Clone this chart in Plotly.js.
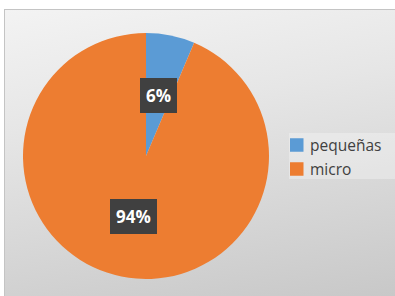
<!DOCTYPE html>
<html>
<head>
<meta charset="utf-8">
<script src="https://cdn.plot.ly/plotly-3.0.1.min.js"></script>
<style>
html,body{margin:0;padding:0;background:#ffffff;width:395px;height:296px;overflow:hidden;}
#bg{position:absolute;left:4px;top:9px;width:390px;height:286px;border-left:1px solid #c4c4c4;border-top:1px solid #c4c4c4;
background:linear-gradient(170deg,#f3f3f3 0%,#e6e6e6 35%,#d6d6d6 70%,#c8c8c8 100%);}
#chart{position:absolute;left:0;top:0;width:395px;height:296px;}
</style>
</head>
<body>
<div id="bg"></div>
<div id="chart"></div>
<script>
const categories = ["pequeñas", "micro"];
const values = [6.4, 93.6];
const colors = ["#5b9bd5", "#ed7d31"];

const W = 395, H = 296;
const cxPx = 146, cyPx = 156, rPx = 123;
const dom = {
  x: [(cxPx - rPx) / W, (cxPx + rPx) / W],
  y: [1 - (cyPx + rPx) / H, 1 - (cyPx - rPx) / H]
};

const total = values.reduce((a, b) => a + b, 0);
const pctLabels = values.map(v => Math.round(v / total * 100) + "%");

let cum = 0;
const annotations = values.map((v, i) => {
  const mid = (cum + v / 2) / total * 2 * Math.PI;
  cum += v;
  const px = cxPx + 0.5 * rPx * Math.sin(mid);
  const py = cyPx - 0.5 * rPx * Math.cos(mid);
  return {
    x: px / W, y: 1 - py / H, xref: "paper", yref: "paper",
    text: "<b>" + pctLabels[i] + "</b>", showarrow: false,
    font: {family: "Open Sans, Liberation Sans, sans-serif", size: 17, color: "#ffffff"},
    bgcolor: "#404040", bordercolor: "#404040", borderwidth: 1, borderpad: 5,
    xanchor: "center", yanchor: "middle"
  };
});

// custom legend built from categories / colors
const legX = 290, legY0 = 145, legStep = 24, sq = 13.5;
const shapes = [{
  type: "rect", xref: "paper", yref: "paper",
  x0: 289 / W, x1: 1, y0: 1 - 179 / H, y1: 1 - 133 / H,
  fillcolor: "rgba(255,255,255,0.3)", line: {width: 0}, layer: "below"
}];
categories.forEach((c, i) => {
  const yc = legY0 + i * legStep;
  shapes.push({
    type: "rect", xref: "paper", yref: "paper",
    x0: legX / W, x1: (legX + sq) / W,
    y0: 1 - (yc + sq / 2) / H, y1: 1 - (yc - sq / 2) / H,
    fillcolor: colors[i], line: {width: 0}
  });
  annotations.push({
    x: 308 / W, y: 1 - yc / H, xref: "paper", yref: "paper",
    text: c, showarrow: false, xanchor: "left", yanchor: "middle",
    font: {family: "Open Sans, Liberation Sans, sans-serif", size: 15.5, color: "#404040"}
  });
});

const data = [{
  type: "pie",
  labels: categories,
  values: values,
  marker: {colors: colors, line: {width: 0}},
  sort: false,
  direction: "clockwise",
  rotation: 0,
  textinfo: "none",
  hoverinfo: "none",
  domain: dom
}];

const layout = {
  width: W, height: H,
  margin: {l: 0, r: 0, t: 0, b: 0},
  paper_bgcolor: "rgba(0,0,0,0)",
  plot_bgcolor: "rgba(0,0,0,0)",
  showlegend: false,
  shapes: shapes,
  annotations: annotations
};

Plotly.newPlot("chart", data, layout, {staticPlot: true, displayModeBar: false});
</script>
</body>
</html>
